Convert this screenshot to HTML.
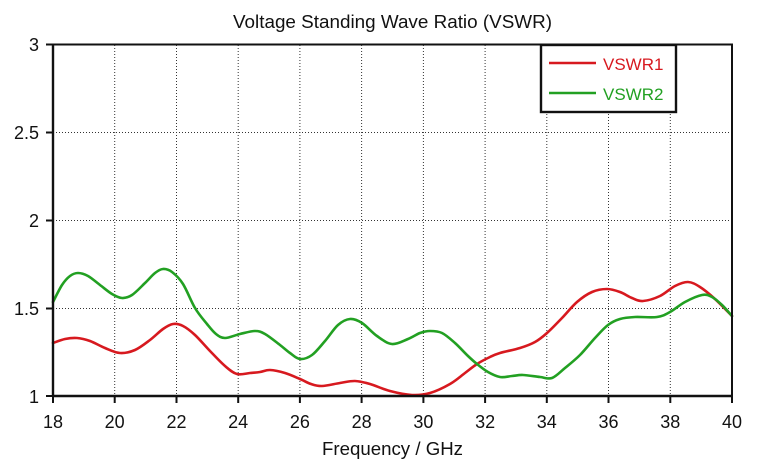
<!DOCTYPE html>
<html>
<head>
<meta charset="utf-8">
<style>
  html,body{margin:0;padding:0;background:#fff;}
  svg{display:block;}
  text{font-family:"Liberation Sans","DejaVu Sans",sans-serif;fill:#111;}
</style>
</head>
<body>
<svg id="chart" width="780" height="463" viewBox="0 0 780 463" xmlns="http://www.w3.org/2000/svg">
  <rect x="0" y="0" width="780" height="463" fill="#fff"/>
  <!-- title -->
  <text x="392.5" y="28" font-size="18" text-anchor="middle" textLength="319" lengthAdjust="spacingAndGlyphs">Voltage Standing Wave Ratio (VSWR)</text>

  <!-- grid -->
  <g stroke="#333" stroke-width="1" stroke-dasharray="1,2" fill="none">
    <line x1="114.7" y1="45" x2="114.7" y2="396"/>
    <line x1="176.5" y1="45" x2="176.5" y2="396"/>
    <line x1="238.2" y1="45" x2="238.2" y2="396"/>
    <line x1="299.9" y1="45" x2="299.9" y2="396"/>
    <line x1="361.6" y1="45" x2="361.6" y2="396"/>
    <line x1="423.4" y1="45" x2="423.4" y2="396"/>
    <line x1="485.1" y1="45" x2="485.1" y2="396"/>
    <line x1="546.8" y1="45" x2="546.8" y2="396"/>
    <line x1="608.5" y1="45" x2="608.5" y2="396"/>
    <line x1="670.3" y1="45" x2="670.3" y2="396"/>
    <line x1="53" y1="132.5" x2="732" y2="132.5"/>
    <line x1="53" y1="220.5" x2="732" y2="220.5"/>
    <line x1="53" y1="308.5" x2="732" y2="308.5"/>
  </g>

  <!-- series -->
  <polyline class="smooth" fill="none" stroke="#d7191f" stroke-width="2.6" stroke-linejoin="round" stroke-linecap="round"
    points="53,343 65,339 77,338 90,341 105,348 120,353 135,350 150,340 163,329 173,324 183,326 195,335 210,351 225,366 237,374 250,373 260,372 270,370 285,373 300,379 311,384 322,386 340,383 355,381 370,384 390,391 412,395 430,393 450,384 465,373 477,364 490,357 500,353 520,348 535,342 547,333 562,318 577,302 592,292 607,289 620,292 632,298 643,301 660,296 675,286 688,282 700,287 715,299 732,316"/>
  <polyline class="smooth" fill="none" stroke="#22a022" stroke-width="2.6" stroke-linejoin="round" stroke-linecap="round"
    points="53,302 62,285 70,276 78,273 88,276 100,285 112,294 122,298 132,295 145,283 155,273 163,269 172,272 183,284 195,308 207,324 216,334 225,338 240,334 255,331 265,334 280,345 290,353 300,359 312,355 325,341 338,325 350,319 362,323 377,336 392,344 408,339 420,333 430,331 442,333 455,343 468,356 477,364 488,372 500,377 512,376 523,375 540,377 552,378 565,368 580,355 595,338 608,325 620,319 635,317 657,317 670,312 685,302 702,295 712,297 722,305 732,316"/>

  <!-- frame -->
  <g stroke="#111" fill="none">
    <line x1="53" y1="44.5" x2="733" y2="44.5" stroke-width="2"/>
    <line x1="732" y1="44" x2="732" y2="397" stroke-width="2"/>
    <line x1="53" y1="43.5" x2="53" y2="397" stroke-width="2.4"/>
    <line x1="52" y1="396" x2="733" y2="396" stroke-width="2.4"/>
  </g>
  <!-- ticks -->
  <g stroke="#111" stroke-width="2">
    <line x1="46" y1="44.5" x2="53" y2="44.5"/>
    <line x1="46" y1="132.5" x2="53" y2="132.5"/>
    <line x1="46" y1="220.5" x2="53" y2="220.5"/>
    <line x1="46" y1="308.5" x2="53" y2="308.5"/>
    <line x1="46" y1="396" x2="53" y2="396"/>
    <line x1="53" y1="396" x2="53" y2="403"/>
    <line x1="114.7" y1="396" x2="114.7" y2="403"/>
    <line x1="176.5" y1="396" x2="176.5" y2="403"/>
    <line x1="238.2" y1="396" x2="238.2" y2="403"/>
    <line x1="299.9" y1="396" x2="299.9" y2="403"/>
    <line x1="361.6" y1="396" x2="361.6" y2="403"/>
    <line x1="423.4" y1="396" x2="423.4" y2="403"/>
    <line x1="485.1" y1="396" x2="485.1" y2="403"/>
    <line x1="546.8" y1="396" x2="546.8" y2="403"/>
    <line x1="608.5" y1="396" x2="608.5" y2="403"/>
    <line x1="670.3" y1="396" x2="670.3" y2="403"/>
    <line x1="732" y1="396" x2="732" y2="403"/>
  </g>

  <!-- y labels -->
  <g font-size="18" text-anchor="end">
    <text x="39" y="51">3</text>
    <text x="39" y="139">2.5</text>
    <text x="39" y="227">2</text>
    <text x="39" y="315">1.5</text>
    <text x="39" y="403">1</text>
  </g>
  <!-- x labels -->
  <g font-size="18" text-anchor="middle">
    <text x="53" y="428">18</text>
    <text x="114.7" y="428">20</text>
    <text x="176.5" y="428">22</text>
    <text x="238.2" y="428">24</text>
    <text x="299.9" y="428">26</text>
    <text x="361.6" y="428">28</text>
    <text x="423.4" y="428">30</text>
    <text x="485.1" y="428">32</text>
    <text x="546.8" y="428">34</text>
    <text x="608.5" y="428">36</text>
    <text x="670.3" y="428">38</text>
    <text x="732" y="428">40</text>
  </g>
  <text x="392.5" y="455" font-size="18" text-anchor="middle" textLength="141" lengthAdjust="spacingAndGlyphs">Frequency / GHz</text>

  <!-- legend -->
  <rect x="541" y="45" width="135" height="67" fill="#fff" stroke="#111" stroke-width="2.4"/>
  <line x1="549" y1="63" x2="596" y2="63" stroke="#d7191f" stroke-width="2.6"/>
  <line x1="549" y1="93" x2="596" y2="93" stroke="#22a022" stroke-width="2.6"/>
  <text x="603" y="70" font-size="17" style="fill:#d7191f">VSWR1</text>
  <text x="603" y="100" font-size="17" style="fill:#22a022">VSWR2</text>
</svg>
<script>
(function(){
  var NS="http://www.w3.org/2000/svg";
  var pls=document.querySelectorAll("polyline.smooth");
  for(var k=0;k<pls.length;k++){
    var pl=pls[k];
    var raw=pl.getAttribute("points").trim().split(/\s+/);
    var p=raw.map(function(s){var a=s.split(",");return [parseFloat(a[0]),parseFloat(a[1])];});
    var n=p.length;
    var d="M"+p[0][0]+","+p[0][1];
    for(var i=0;i<n-1;i++){
      var p0=p[i>0?i-1:i],p1=p[i],p2=p[i+1],p3=p[i+2<n?i+2:i+1];
      var c1x=p1[0]+(p2[0]-p0[0])/6,c1y=p1[1]+(p2[1]-p0[1])/6;
      var c2x=p2[0]-(p3[0]-p1[0])/6,c2y=p2[1]-(p3[1]-p1[1])/6;
      d+=" C"+c1x.toFixed(2)+","+c1y.toFixed(2)+" "+c2x.toFixed(2)+","+c2y.toFixed(2)+" "+p2[0]+","+p2[1];
    }
    var path=document.createElementNS(NS,"path");
    path.setAttribute("d",d);
    ["fill","stroke","stroke-width","stroke-linejoin","stroke-linecap"].forEach(function(a){path.setAttribute(a,pl.getAttribute(a));});
    pl.parentNode.replaceChild(path,pl);
  }
})();
</script>
</body>
</html>
